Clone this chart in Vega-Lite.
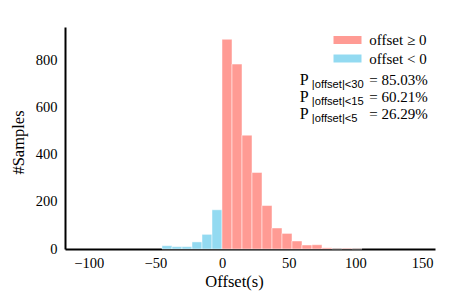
{
  "$schema": "https://vega.github.io/schema/vega-lite/v6.json",
  "width": 370,
  "height": 222,
  "autosize": "none",
  "padding": {"left": 65, "top": 27, "right": 16, "bottom": 48},
  "background": "white",
  "config": {"view": {"stroke": null}, "font": "Liberation Serif"},
  "datasets": {
    "bins": [
      {"start": -45, "end": -37.5, "count": 14, "group": "offset < 0"},
      {"start": -37.5, "end": -30, "count": 10, "group": "offset < 0"},
      {"start": -30, "end": -22.5, "count": 10, "group": "offset < 0"},
      {"start": -22.5, "end": -15, "count": 30, "group": "offset < 0"},
      {"start": -15, "end": -7.5, "count": 62, "group": "offset < 0"},
      {"start": -7.5, "end": 0, "count": 166, "group": "offset < 0"},
      {"start": 0, "end": 7.5, "count": 888, "group": "offset ≥ 0"},
      {"start": 7.5, "end": 15, "count": 783, "group": "offset ≥ 0"},
      {"start": 15, "end": 22.5, "count": 482, "group": "offset ≥ 0"},
      {"start": 22.5, "end": 30, "count": 324, "group": "offset ≥ 0"},
      {"start": 30, "end": 37.5, "count": 184, "group": "offset ≥ 0"},
      {"start": 37.5, "end": 45, "count": 89, "group": "offset ≥ 0"},
      {"start": 45, "end": 52.5, "count": 66, "group": "offset ≥ 0"},
      {"start": 52.5, "end": 60, "count": 34, "group": "offset ≥ 0"},
      {"start": 60, "end": 67.5, "count": 17, "group": "offset ≥ 0"},
      {"start": 67.5, "end": 75, "count": 18, "group": "offset ≥ 0"},
      {"start": 75, "end": 82.5, "count": 5, "group": "offset ≥ 0"},
      {"start": 82.5, "end": 90, "count": 1, "group": "offset ≥ 0"},
      {"start": 90, "end": 97.5, "count": 3, "group": "offset ≥ 0"},
      {"start": 97.5, "end": 105, "count": 1, "group": "offset ≥ 0"}
    ],
    "notes": [
      {"p": "P", "sub": "|offset|<30", "val": "= 85.03%", "y": 695},
      {"p": "P", "sub": "|offset|<15", "val": "= 60.21%", "y": 623},
      {"p": "P", "sub": "|offset|<5", "val": "= 26.29%", "y": 551}
    ]
  },
  "layer": [
    {
      "data": {"name": "bins"},
      "mark": {"type": "bar", "stroke": "white", "strokeWidth": 0.8, "strokeOpacity": 0.6},
      "encoding": {
        "x": {
          "field": "start", "type": "quantitative",
          "scale": {"domain": [-117.75, 159.75], "nice": false, "zero": false},
          "axis": {
            "values": [-100, -50, 0, 50, 100, 150],
            "grid": false, "ticks": false,
            "domainColor": "#000", "domainWidth": 2,
            "labelFont": "Liberation Serif", "labelFontSize": 14.5, "labelColor": "#000", "labelPadding": 7,
            "title": "Offset(s)", "titleFont": "Liberation Serif", "titleFontSize": 16.5, "titleFontWeight": "normal", "titleColor": "#000",
            "titleX": 169, "titleY": 37, "titleBaseline": "alphabetic", "titleAlign": "center"
          }
        },
        "x2": {"field": "end"},
        "y": {
          "field": "count", "type": "quantitative",
          "scale": {"domain": [0, 940], "nice": false},
          "axis": {
            "values": [0, 200, 400, 600, 800],
            "grid": false, "ticks": false,
            "domainColor": "#000", "domainWidth": 2,
            "labelFont": "Liberation Serif", "labelFontSize": 14.5, "labelColor": "#000", "labelPadding": 8,
            "title": "#Samples", "titleFont": "Liberation Serif", "titleFontSize": 16.5, "titleFontWeight": "normal", "titleColor": "#000",
            "titleX": -42, "titleY": 115, "titleAngle": -90, "titleBaseline": "alphabetic", "titleAlign": "center"
          }
        },
        "y2": {"datum": 0},
        "color": {
          "field": "group", "type": "nominal",
          "scale": {"domain": ["offset ≥ 0", "offset < 0"], "range": ["#FF9B94", "#93DAF1"]},
          "legend": {
            "orient": "none", "legendX": 275, "legendY": 5.5, "title": null,
            "symbolType": "M-3.5,-1H3.5V1H-3.5Z", "symbolSize": 64, "symbolStrokeWidth": 0, "symbolOpacity": 1,
            "labelFont": "Liberation Serif", "labelFontSize": 15, "labelColor": "#000", "labelOffset": 14.3,
            "rowPadding": 2.5, "padding": 0
          }
        }
      }
    },
    {
      "data": {"name": "notes"},
      "mark": {"type": "text", "align": "left", "baseline": "alphabetic", "font": "Liberation Serif", "fontSize": 16, "color": "#000"},
      "encoding": {
        "x": {"datum": 58.3, "type": "quantitative"},
        "y": {"field": "y", "type": "quantitative"},
        "text": {"field": "p"}
      }
    },
    {
      "data": {"name": "notes"},
      "mark": {"type": "text", "align": "left", "baseline": "alphabetic", "font": "Liberation Sans", "fontSize": 11.2, "dy": 3, "color": "#000"},
      "encoding": {
        "x": {"datum": 67.4, "type": "quantitative"},
        "y": {"field": "y", "type": "quantitative"},
        "text": {"field": "sub"}
      }
    },
    {
      "data": {"name": "notes"},
      "mark": {"type": "text", "align": "left", "baseline": "alphabetic", "font": "Liberation Serif", "fontSize": 15, "color": "#000"},
      "encoding": {
        "x": {"datum": 110.5, "type": "quantitative"},
        "y": {"field": "y", "type": "quantitative"},
        "text": {"field": "val"}
      }
    }
  ]
}
